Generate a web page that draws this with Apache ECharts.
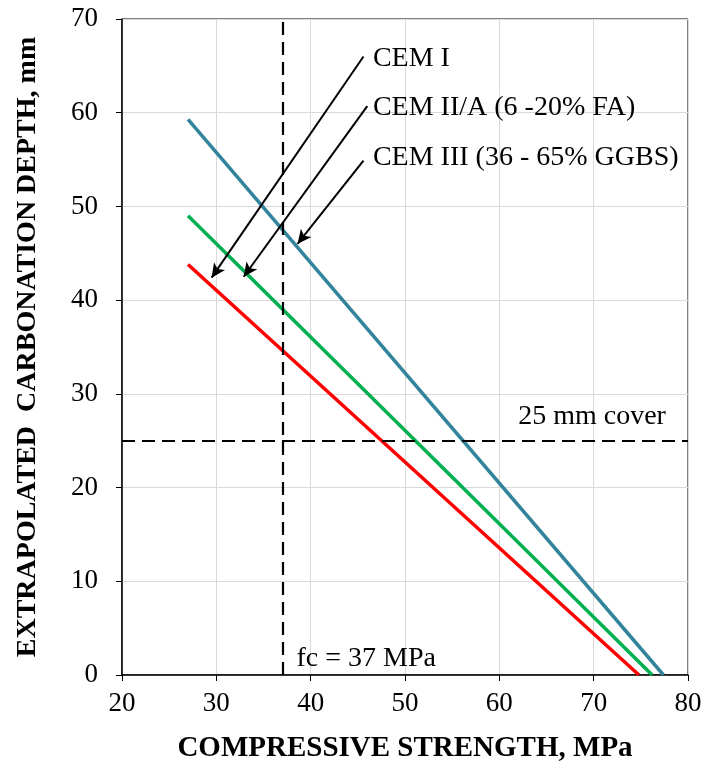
<!DOCTYPE html>
<html>
<head>
    <meta charset="utf-8">
    <title>Carbonation depth</title>
    <script src="https://cdn.jsdelivr.net/npm/echarts@6/dist/echarts.min.js"></script>
    <style>body { margin: 0; }</style>
</head>
<body>
    <div id="main" style="width: 702px; height: 764px;"></div>
    <script type="text/javascript">
        // line data: [compressive strength, carbonation depth]
        var cemI = [[27, 43.8], [74.8, 0]];
        var cemII = [[27, 49.0], [76.2, 0]];
        var cemIII = [[27, 59.3], [77.4, 0]];

        // reference lines
        var fcValue = 37;
        var coverValue = 25;

        // annotation arrows (start -> tip) and labels, in data units
        var arrowNames = ['CEM I', 'CEM II/A (6 -20% FA)', 'CEM III (36 - 65% GGBS)'];
        var arrowStarts = [[45.6, 66.0], [46.0, 60.7], [45.6, 54.9]];
        var arrowTips = [[29.5, 42.4], [32.9, 42.5], [38.6, 46.0]];
        var labelPos = [[46.6, 65.8], [46.6, 60.5], [46.6, 55.2]];

        var font = 'Liberation Serif';
        var myChart = echarts.init(document.getElementById('main'));

        var arrowLines = arrowStarts.map(function(s, i) {
            return [{ coord: s }, { coord: arrowTips[i] }];
        });
        var labelPoints = labelPos.map(function(p, i) {
            return { name: arrowNames[i], coord: p };
        });

        var option = {
            animation: false,
            grid: {
                left: 122, right: 14, top: 19, bottom: 89,
                outerBoundsMode: 'none',
                show: true, borderColor: '#000', borderWidth: 1
            },
            xAxis: {
                type: 'value', min: 20, max: 80, interval: 10,
                name: 'COMPRESSIVE STRENGTH, MPa',
                nameLocation: 'middle', nameGap: 59,
                nameTextStyle: { fontFamily: font, fontWeight: 'bold', fontSize: 29, color: '#000' },
                axisLine: { lineStyle: { color: '#000', width: 1.5 } },
                axisTick: { inside: false, length: 6, lineStyle: { color: '#000' } },
                axisLabel: { fontFamily: font, fontSize: 27, color: '#000', margin: 15 },
                splitLine: { lineStyle: { color: '#d9d9d9' } }
            },
            yAxis: {
                type: 'value', min: 0, max: 70, interval: 10,
                name: 'EXTRAPOLATED  CARBONATION DEPTH, mm',
                nameLocation: 'middle', nameGap: 80, nameRotate: 90,
                nameTextStyle: { fontFamily: font, fontWeight: 'bold', fontSize: 28, color: '#000' },
                axisLine: { show: true, lineStyle: { color: '#000', width: 1.5 } },
                axisTick: { show: true, inside: false, length: 6, lineStyle: { color: '#000' } },
                axisLabel: { fontFamily: font, fontSize: 27, color: '#000', margin: 24 },
                splitLine: { lineStyle: { color: '#d9d9d9' } }
            },
            series: [{
                name: 'CEM III', type: 'line', data: cemIII, showSymbol: false,
                lineStyle: { color: '#31849b', width: 3.5 }, z: 3
            }, {
                name: 'CEM II/A', type: 'line', data: cemII, showSymbol: false,
                lineStyle: { color: '#00b050', width: 3.5 }, z: 3
            }, {
                name: 'CEM I', type: 'line', data: cemI, showSymbol: false,
                lineStyle: { color: '#ff0000', width: 3.5 }, z: 3,
                markLine: {
                    silent: true, symbol: ['none', 'none'],
                    lineStyle: { color: '#000', type: [13, 7], width: 2.2 },
                    label: { show: false },
                    data: [{ xAxis: fcValue }, { yAxis: coverValue }]
                }
            }, {
                name: 'arrows', type: 'line', data: [],
                markLine: {
                    silent: true, symbol: ['none', 'arrow'], symbolSize: [10, 14],
                    lineStyle: { color: '#000', type: 'solid', width: 2 },
                    label: { show: false },
                    data: arrowLines
                },
                markPoint: {
                    silent: true, symbol: 'circle', symbolSize: 0,
                    label: {
                        show: true, position: 'right', distance: 0,
                        fontFamily: font, fontSize: 28, color: '#000',
                        formatter: '{b}'
                    },
                    data: labelPoints.concat([
                        { name: 'fc = 37 MPa', coord: [38.5, 1.7] },
                        { name: '25 mm cover', coord: [62.0, 27.6] }
                    ])
                }
            }]
        };

        myChart.setOption(option);
    </script>
</body>
</html>
